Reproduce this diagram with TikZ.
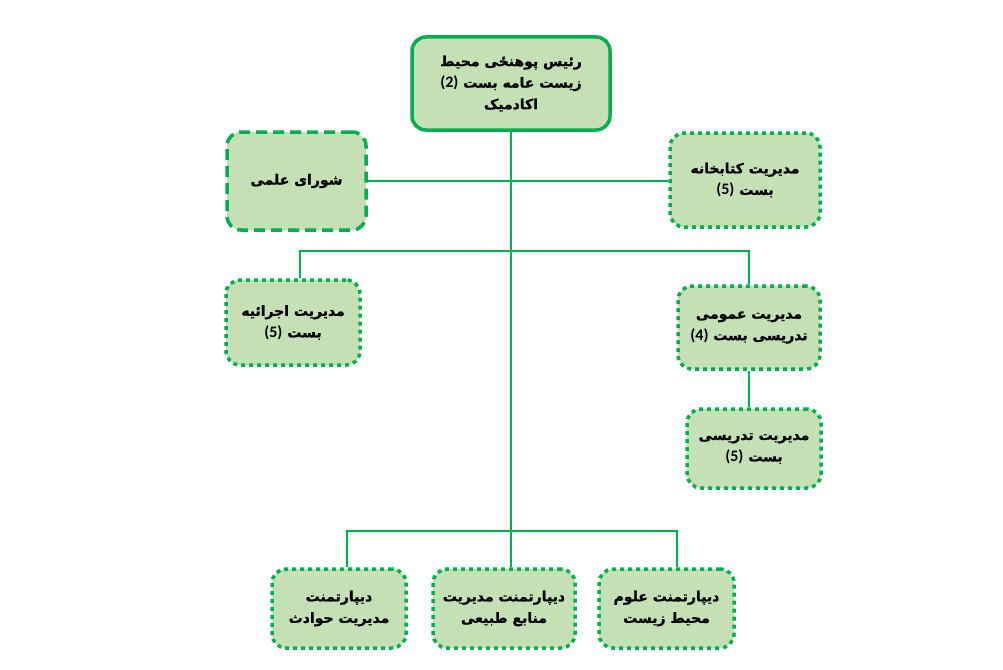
\documentclass[tikz,border=0pt]{standalone}
\usepackage{fontspec}
\TeXXeTstate=1
\newfontfamily\arabicfont[Script=Arabic, BoldFont={DejaVu Sans Bold}, BoldFeatures={FakeBold=1.2}]{DejaVu Sans}
\newfontfamily\numfont{Carlito}
\newcommand\rl[1]{\beginR#1\endR}
\newcommand\nm[1]{\beginL{\numfont\bfseries\fontsize{16}{21}\selectfont #1}\endL}
\definecolor{bord}{HTML}{00B050}
\definecolor{boxfill}{HTML}{C5E0B4}
\tikzset{
  box/.style={draw=bord, fill=boxfill, rounded corners=14pt, line width=3.5pt,
    align=center, inner sep=2pt, text=black,
    font=\arabicfont\bfseries\fontsize{14}{21.5}\selectfont},
  solidbox/.style={box},
  dashbox/.style={box, dash pattern=on 11pt off 6pt},
  dotbox/.style={box, dash pattern=on 4pt off 4pt},
  conn/.style={draw=bord, line width=1.8pt}
}
\begin{document}
\begin{tikzpicture}[x=1pt,y=-1pt]
\useasboundingbox (0,0) rectangle (1003,669);
\node[solidbox, minimum width=198, minimum height=93] (top) at (511,83.5)
  {\rl{رئیس پوهنځی محیط}\\\rl{زیست عامه بست \nm{(2)}}\\\rl{اکادمیک}};
\node[dashbox, minimum width=139, minimum height=98] (shura) at (296.5,181)
  {\rl{شورای علمی}};
\node[dotbox, minimum width=150, minimum height=94] (lib) at (745,180)
  {\rl{مدیریت کتابخانه}\\\rl{بست \nm{(5)}}};
\node[dotbox, minimum width=134, minimum height=85] (ejr) at (293,322.5)
  {\rl{مدیریت اجرائیه}\\\rl{بست \nm{(5)}}};
\node[dotbox, minimum width=142, minimum height=83] (omumi) at (749,327.5)
  {\rl{مدیریت عمومی}\\\rl{تدریسی بست \nm{(4)}}};
\node[dotbox, minimum width=134, minimum height=79] (tadris) at (754,448.5)
  {\rl{مدیریت تدریسی}\\\rl{بست \nm{(5)}}};
\node[dotbox, minimum width=134, minimum height=79] (hawadeth) at (339,608.5)
  {\rl{دیپارتمنت}\\\rl{مدیریت حوادث}};
\node[dotbox, minimum width=142, minimum height=79] (manabe) at (504,608.5)
  {\rl{دیپارتمنت مدیریت}\\\rl{منابع طبیعی}};
\node[dotbox, minimum width=135, minimum height=79] (mohit) at (666.5,608.5)
  {\rl{دیپارتمنت علوم}\\\rl{محیط زیست}};
\coordinate (ul) at (300,251);
\coordinate (ur) at (749,251);
\coordinate (b2) at (511,531);
\coordinate (bl) at (347,531);
\coordinate (br) at (677,531);
\begin{scope}[on background layer/.try]
\draw[conn] (top.south) -- (b2);
\draw[conn] (shura.east) -- (shura.east -| lib.west);
\draw[conn] (ul |- ejr.north) -- (ul) -- (ur) -- (omumi.north);
\draw[conn] (omumi.south) -- (omumi.south |- tadris.north);
\draw[conn] (bl |- hawadeth.north) -- (bl) -- (br) -- (br |- mohit.north);
\draw[conn] (b2) -- (b2 |- manabe.north);
\end{scope}
\end{tikzpicture}
\end{document}
